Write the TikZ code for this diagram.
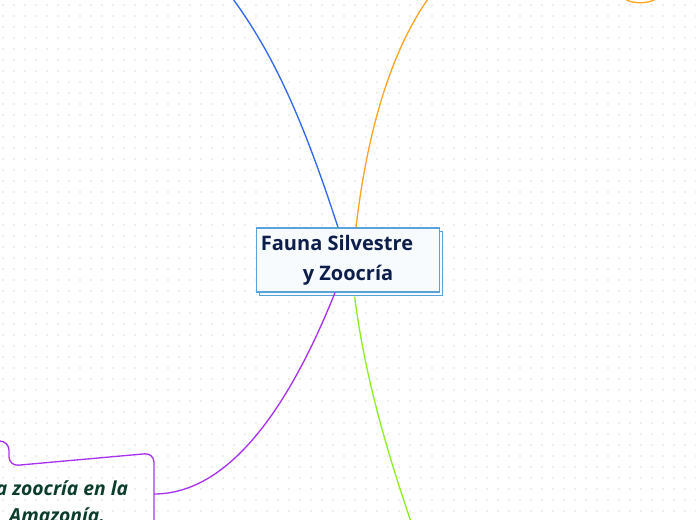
\documentclass[tikz,border=0pt]{standalone}
\usepackage{fontspec}
\setmainfont{Open Sans}
\usepackage{tikz}
\usetikzlibrary{positioning,shapes,shadows}
\definecolor{boxblue}{HTML}{5AA2DA}
\definecolor{boxfill}{HTML}{F8FBFD}
\definecolor{navy}{HTML}{0D1E4B}
\definecolor{leafgreen}{HTML}{0B3D2C}
\definecolor{dotgray}{HTML}{EEEEEE}
\definecolor{bblue}{HTML}{3068F2}
\definecolor{borange}{HTML}{FFA526}
\definecolor{bpurple}{HTML}{A832F0}
\definecolor{bgreen}{HTML}{8EF020}

\begin{document}
\begin{tikzpicture}[x=0.75pt,y=-0.75pt,
    branch/.style={line width=1pt},
    mainbox/.style={draw=boxblue,fill=boxfill,line width=0.9pt,
        minimum width=136.5pt,minimum height=48pt,align=center,
        text=navy,font=\fontsize{15}{22.5}\selectfont\bfseries,
        copy shadow={shadow xshift=2.25pt,shadow yshift=-2.6pt,
            fill=boxfill,draw=boxblue,line width=0.9pt,opacity=1}},
    leaf/.style={text=leafgreen,align=center,
        font=\fontsize{14.5}{20}\selectfont\bfseries\itshape}]
    \useasboundingbox (0,0) rectangle (696,520);
    \clip (0,0) rectangle (696,520);
    % dotted paper
    \foreach \i in {0,...,63}
        \foreach \j in {0,...,47}
            \fill[dotgray] (2+11*\i,4+11*\j) rectangle +(1.6,1.6);

    \node[mainbox] (fauna) at (348,260) {Fauna Silvestre\hspace*{16.5pt}\\y Zoocría};
    \node[leaf] (zoocria) at (57,502) {La zoocría en la\\Amazonía.};

    \coordinate (blue) at (233,-1);
    \coordinate (orange) at (428,-1);
    \coordinate (green) at (411,522);
    \coordinate (zin) at (154,494);

    % outline of the lower node
    \draw[bpurple,line width=1pt,rounded corners=7pt]
        (-12,441) -- (9,441) -- (9,466) -- (154,453) -- (154,530);
    % node at the top right
    \draw[borange,line width=1pt] (625,-1) .. controls (632,4) and (648,4) .. (656,-1);

    \draw[branch,bblue] ([xshift=-7.5pt]fauna.north) .. controls (300,110) and (270,50) .. (blue);
    \draw[branch,borange] ([xshift=6pt]fauna.north) .. controls (365,150) and (385,60) .. (orange);
    \draw[branch,bpurple] ([xshift=-9.75pt]fauna.south) .. controls (300,380) and (240,494) .. (zin);
    \draw[branch,bgreen] ([xshift=5pt,yshift=-3pt]fauna.south) .. controls (365,380) and (390,460) .. (green);
\end{tikzpicture}
\end{document}
